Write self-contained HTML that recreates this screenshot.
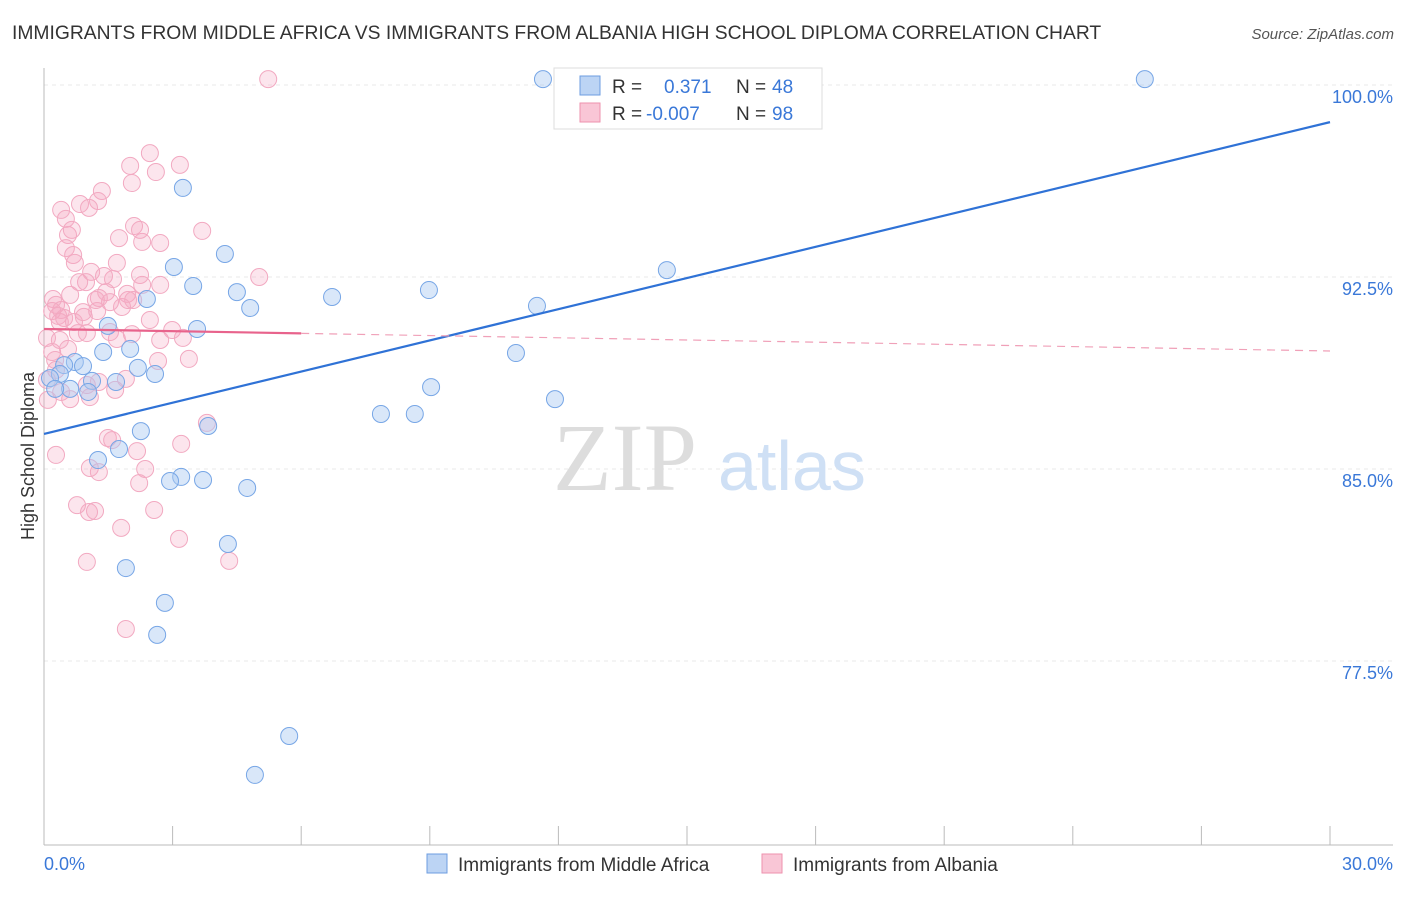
<!DOCTYPE html>
<html><head><meta charset="utf-8"><style>
body{margin:0;background:#fff;font-family:"Liberation Sans",sans-serif}
</style></head><body>
<svg width="1406" height="892" xmlns="http://www.w3.org/2000/svg" style="font-family:'Liberation Sans',sans-serif">
<text x="12" y="39" font-size="19.3" fill="#333">IMMIGRANTS FROM MIDDLE AFRICA VS IMMIGRANTS FROM ALBANIA HIGH SCHOOL DIPLOMA CORRELATION CHART</text>
<text x="1394" y="39" font-size="15" fill="#555" font-style="italic" text-anchor="end">Source: ZipAtlas.com</text>
<g id="grid"></g>
<g><text x="553" y="490" font-size="96" fill="#ddd" font-family="Liberation Serif,serif">ZIP</text><text x="718" y="490" font-size="70" fill="#cfe0f5">atlas</text></g>
<g id="axes"></g>
<g id="pts"></g>
<g id="trend"></g>
<text transform="translate(34,456) rotate(-90)" font-size="18" fill="#333" text-anchor="middle">High School Diploma</text>
<g>
<rect x="554" y="68" width="268" height="61" fill="#fff" stroke="#ddd"/>
<rect x="580" y="76" width="20" height="19" fill="#bcd4f4" stroke="#6d9de0"/>
<rect x="580" y="103" width="20" height="19" fill="#f9c6d6" stroke="#ee92ae"/>
<text x="612" y="93" font-size="19" fill="#333">R =</text><text x="664" y="93" font-size="19" fill="#3a78d8">0.371</text>
<text x="736" y="93" font-size="19" fill="#333">N =</text><text x="772" y="93" font-size="19" fill="#3a78d8">48</text>
<text x="612" y="120" font-size="19" fill="#333">R =</text><text x="646" y="120" font-size="19" fill="#3a78d8">-0.007</text>
<text x="736" y="120" font-size="19" fill="#333">N =</text><text x="772" y="120" font-size="19" fill="#3a78d8">98</text>
</g>
<g>
<rect x="427" y="854" width="20" height="19" fill="#bcd4f4" stroke="#6d9de0"/>
<text x="458" y="871" font-size="19" fill="#333">Immigrants from Middle Africa</text>
<rect x="762" y="854" width="20" height="19" fill="#f9c6d6" stroke="#ee92ae"/>
<text x="793" y="871" font-size="19" fill="#333">Immigrants from Albania</text>
</g>
</svg>
<script>
const yTicks=[100,92.5,85,77.5];
const yTickLabels=["100.0%","92.5%","85.0%","77.5%"];
const xTickLabels=["0.0%","30.0%"];
const blueX=[11.64,25.68,3.24,4.22,3.03,14.53,3.48,4.50,6.72,8.98,2.40,4.81,11.50,1.49,3.57,2.01,1.38,11.01,0.72,0.47,0.91,2.19,2.59,0.37,0.14,1.12,1.68,9.03,0.61,0.26,1.03,7.86,8.65,11.92,3.83,2.26,1.75,1.26,3.20,2.94,3.71,4.74,4.29,1.91,2.82,2.64,5.72,4.92];
const blueY=[100.23,100.23,95.98,93.40,92.89,92.77,92.15,91.91,91.72,91.99,91.64,91.29,91.37,90.59,90.47,89.69,89.57,89.53,89.18,89.06,89.02,88.95,88.71,88.71,88.55,88.44,88.40,88.20,88.13,88.13,88.01,87.15,87.15,87.73,86.68,86.48,85.78,85.35,84.69,84.53,84.57,84.26,82.07,81.13,79.77,78.52,74.57,73.05];
const pinkX=[5.23,2.47,3.17,2.01,2.61,2.05,1.35,1.26,0.40,0.84,1.05,0.51,2.10,0.56,3.69,1.75,2.71,2.29,0.51,0.68,0.72,1.70,2.24,1.10,5.02,0.98,0.82,1.61,2.29,0.61,1.45,1.94,0.21,1.28,2.08,1.54,0.28,1.82,0.40,0.19,0.33,1.24,0.47,0.93,2.99,0.79,2.05,1.54,1.00,3.24,0.07,0.37,1.70,0.56,0.19,2.66,3.38,1.91,1.28,1.00,1.66,0.40,1.07,0.61,0.09,0.07,0.28,3.80,1.49,1.59,3.20,2.17,0.28,2.36,1.07,1.28,2.22,0.77,1.05,1.19,2.57,1.80,3.15,1.00,4.32,1.91,0.37,0.70,1.40,2.71,1.96,0.65,1.21,0.91,2.24,2.47,2.71,0.26];
const pinkY=[100.23,97.34,96.88,96.84,96.60,96.17,95.86,95.47,95.12,95.35,95.20,94.77,94.49,94.14,94.30,94.02,93.83,93.87,93.63,93.36,93.05,93.05,92.58,92.70,92.50,92.30,92.30,92.42,92.19,91.80,91.91,91.84,91.64,91.68,91.60,91.52,91.41,91.33,91.21,91.17,90.98,91.17,90.90,90.94,90.43,90.31,90.27,90.35,90.31,90.12,90.12,90.04,90.08,89.69,89.57,89.22,89.30,88.52,88.40,88.28,88.09,88.01,87.81,87.73,87.70,88.48,88.87,86.80,86.21,86.13,85.98,85.70,85.55,85.00,85.04,84.88,84.45,83.59,83.32,83.36,83.40,82.70,82.27,81.37,81.41,78.75,90.74,90.74,92.54,92.19,91.60,94.34,91.60,91.13,94.34,90.82,90.04,89.26];
const blueTrend=[86.37,98.55];
const pinkTrend=[90.47,89.61];
const pinkSolidEnd=6;
const NS="http://www.w3.org/2000/svg";
const X=v=>44+v/30*1286, Y=v=>85+(100-v)/7.5*192;
function mk(t,a,p){const e=document.createElementNS(NS,t);for(const k in a)e.setAttribute(k,a[k]);p.appendChild(e);return e;}
const grid=document.getElementById('grid'),axes=document.getElementById('axes'),pts=document.getElementById('pts'),tr=document.getElementById('trend');
yTicks.forEach((v,i)=>{const l=mk('line',{x1:44,x2:1393,y1:Y(v),y2:Y(v),stroke:'#e8e8e8','stroke-dasharray':'4 4'},grid);
const t=mk('text',{x:1393,y:Y(v)+18,'font-size':18,fill:'#3a78d8','text-anchor':'end'},axes);t.textContent=yTickLabels[i];});
mk('line',{x1:44,x2:44,y1:68,y2:845,stroke:'#bbb'},axes);
mk('line',{x1:44,x2:1393,y1:845,y2:845,stroke:'#bbb'},axes);
for(let i=1;i<=10;i++){const l=mk('line',{x1:X(i*3),x2:X(i*3),y1:826,y2:845,stroke:'#bbb'},axes);}
[[0,44,'start'],[30,1393,'end']].forEach((d,i)=>{const t=mk('text',{x:d[1],y:870,'font-size':18,fill:'#3a78d8','text-anchor':d[2]},axes);t.textContent=xTickLabels[i];});
pinkX.forEach((v,i)=>{const c=mk('circle',{cx:X(v),cy:Y(pinkY[i]),r:8.5,fill:'rgba(245,170,195,0.3)',stroke:'#f2a9c1','stroke-width':1},pts);});
blueX.forEach((v,i)=>{const c=mk('circle',{cx:X(v),cy:Y(blueY[i]),r:8.5,fill:'rgba(170,202,242,0.45)',stroke:'#77a6e6','stroke-width':1},pts);});
let l=mk('line',{x1:X(0),y1:Y(blueTrend[0]),x2:X(30),y2:Y(blueTrend[1]),stroke:'#2f72d6','stroke-width':2.2},tr);
const py=x=>pinkTrend[0]+(pinkTrend[1]-pinkTrend[0])*x/30;
l=mk('line',{x1:X(0),y1:Y(py(0)),x2:X(pinkSolidEnd),y2:Y(py(pinkSolidEnd)),stroke:'#e8638c','stroke-width':2.2},tr);
l=mk('line',{x1:X(pinkSolidEnd),y1:Y(py(pinkSolidEnd)),x2:X(30),y2:Y(py(30)),stroke:'#f0a0b8','stroke-width':1.2,'stroke-dasharray':'8 6'},tr);
</script>
</body></html>
